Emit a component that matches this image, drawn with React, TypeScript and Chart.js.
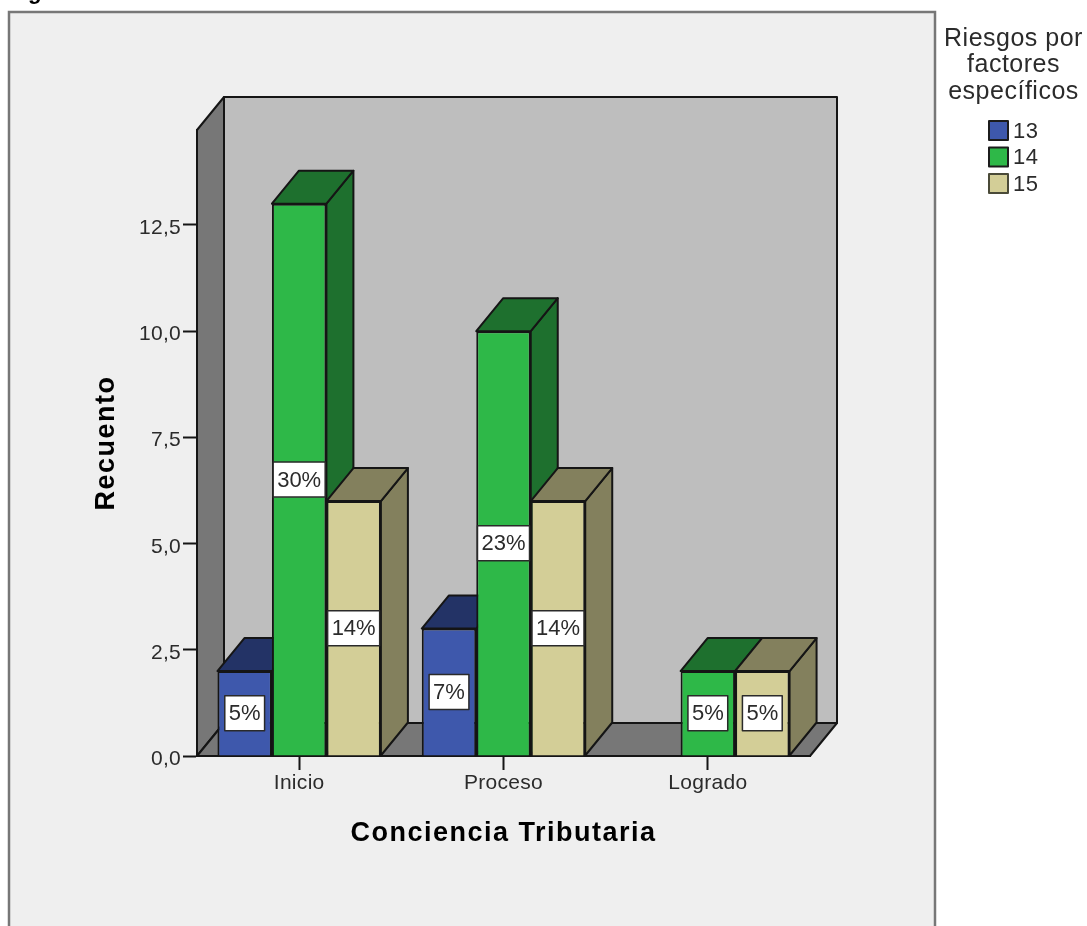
import React, { useEffect, useRef } from "react";
import { Chart, registerables } from "chart.js";

Chart.register(...registerables);

const categories = ["Inicio", "Proceso", "Logrado"];
const counts13 = [2, 3, null];
const counts14 = [13, 10, 2];
const counts15 = [6, 6, 2];
const percent13 = ["5%", "7%", ""];
const percent14 = ["30%", "23%", "5%"];
const percent15 = ["14%", "14%", "5%"];
const seriesNames = ["13", "14", "15"];
const legendTitle = ["Riesgos por", "factores", "específicos"];
const frontColors = ["#3E58AC", "#2EB848", "#D3CE97"];
const topColors = ["#233366", "#1E702E", "#83805D"];
const percentLabels = [percent13, percent14, percent15];

const DEPTH_X = 27;
const DEPTH_Y = 33;
const AXIS_MAX = 14.735;
const INK = "#151515";
const TEXT = "#2b2b2b";
const FONT = "'Liberation Sans', Arial, sans-serif";

function poly(ctx: CanvasRenderingContext2D, pts: number[][], fill: string) {
  ctx.beginPath();
  pts.forEach(([x, y], i) => (i ? ctx.lineTo(x, y) : ctx.moveTo(x, y)));
  ctx.closePath();
  ctx.fillStyle = fill;
  ctx.fill();
  ctx.lineWidth = 2;
  ctx.lineJoin = "round";
  ctx.strokeStyle = INK;
  ctx.stroke();
}

function drawPercentLabels(chart: any) {
  const { ctx } = chart;
  ctx.save();
  ctx.font = `22px ${FONT}`;
  ctx.textAlign = "center";
  ctx.textBaseline = "middle";
  (ctx as any).letterSpacing = "0px";
  percentLabels.forEach((labels, i) => {
    chart.getDatasetMeta(i).data.forEach((bar: any, k: number) => {
      const text = labels[k];
      if (!text) return;
      const { x, y, base } = bar.getProps(["x", "y", "base"], true);
      const cy = (y + base) / 2;
      const w = ctx.measureText(text).width + 8;
      ctx.fillStyle = "#ffffff";
      ctx.strokeStyle = "#2a2a2a";
      ctx.lineWidth = 1.5;
      ctx.fillRect(x - w / 2, cy - 17.5, w, 35);
      ctx.strokeRect(x - w / 2, cy - 17.5, w, 35);
      ctx.fillStyle = TEXT;
      ctx.fillText(text, x, cy + 1);
    });
  });
  ctx.restore();
}

// Panel, walls and floor, the extruded bars and the legend.
const stagePlugin = {
  id: "stage",
  beforeDraw(chart: any) {
    const { ctx, chartArea: a, scales } = chart;
    ctx.save();
    ctx.fillStyle = "#ffffff";
    ctx.fillRect(0, 0, chart.width, chart.height);
    ctx.fillStyle = "#000000";
    ctx.font = `italic bold 22px ${FONT}`;
    ctx.textBaseline = "alphabetic";
    ctx.fillText("Figura", 10, -1);
    ctx.fillStyle = "#EFEFEF";
    ctx.strokeStyle = "#777777";
    ctx.lineWidth = 2.5;
    ctx.fillRect(9, 12, 926, chart.height);
    ctx.strokeRect(9, 12, 926, chart.height + 20);
    ctx.restore();

    (ctx as any).letterSpacing = "0.3px";
    [scales.x, scales.y].forEach((scale: any) => {
      if (scale.__spaced) return;
      const drawTitle = scale.drawTitle;
      scale.drawTitle = function () {
        (ctx as any).letterSpacing = "1.5px";
        drawTitle.call(this);
        (ctx as any).letterSpacing = "0.3px";
      };
      scale.__spaced = true;
    });

    const { left: l, right: r, top: t, bottom: b } = a;
    poly(ctx, [[l, t], [l + DEPTH_X, t - DEPTH_Y], [l + DEPTH_X, b - DEPTH_Y], [l, b]], "#777777");
    poly(ctx, [[l, b], [l + DEPTH_X, b - DEPTH_Y], [r + DEPTH_X, b - DEPTH_Y], [r, b]], "#777777");
    poly(ctx, [[l + DEPTH_X, t - DEPTH_Y], [r + DEPTH_X, t - DEPTH_Y], [r + DEPTH_X, b - DEPTH_Y], [l + DEPTH_X, b - DEPTH_Y]], "#BEBEBE");
  },
  // Series are painted left to right so nearer faces cover the ones behind them.
  beforeDatasetsDraw(chart: any) {
    const { ctx } = chart;
    chart.data.datasets.forEach((dataset: any, i: number) => {
      const meta = chart.getDatasetMeta(i);
      meta.data.forEach((bar: any, k: number) => {
        if (dataset.data[k] == null) return;
        const { x, y, base, width } = bar.getProps(["x", "y", "base", "width"], true);
        const l = x - width / 2;
        const r = x + width / 2;
        ctx.save();
        poly(ctx, [[r, y], [r + DEPTH_X, y - DEPTH_Y], [r + DEPTH_X, base - DEPTH_Y], [r, base]], topColors[i]);
        poly(ctx, [[l, y], [l + DEPTH_X, y - DEPTH_Y], [r + DEPTH_X, y - DEPTH_Y], [r, y]], topColors[i]);
        ctx.restore();
      });
      meta.controller.draw();
    });
    drawPercentLabels(chart);
    return false;
  },
  afterDraw(chart: any) {
    const { ctx } = chart;
    ctx.save();
    (ctx as any).letterSpacing = "0.5px";
    ctx.font = `25px ${FONT}`;
    ctx.fillStyle = TEXT;
    ctx.textAlign = "center";
    ctx.textBaseline = "middle";
    legendTitle.forEach((line, i) => ctx.fillText(line, 1013.5, 39 + i * 26.5));
    (ctx as any).letterSpacing = "0.4px";
    ctx.font = `22px ${FONT}`;
    ctx.textAlign = "left";
    seriesNames.forEach((name, i) => {
      const top = 121 + i * 26.5;
      ctx.fillStyle = frontColors[i];
      ctx.strokeStyle = i === 2 ? "#4a4a38" : "#1c1c1c";
      ctx.lineWidth = 2;
      ctx.fillRect(989, top, 19, 19);
      ctx.strokeRect(989, top, 19, 19);
      ctx.fillStyle = TEXT;
      ctx.fillText(name, 1013, top + 10.5);
    });
    ctx.restore();
  },
};

export default function App() {
  const ref = useRef<HTMLCanvasElement>(null);

  useEffect(() => {
    const series = [counts13, counts14, counts15];
    const chart = new Chart(ref.current as HTMLCanvasElement, {
      type: "bar",
      data: {
        labels: categories,
        datasets: series.map((data, i) => ({
          label: seriesNames[i],
          data,
          backgroundColor: frontColors[i],
          borderColor: INK,
          borderWidth: 2,
          categoryPercentage: 0.8,
          barPercentage: 1,
        })),
      },
      options: {
        responsive: false,
        animation: false,
        events: [],
        layout: { padding: { left: 90, right: 277, top: 130, bottom: 76 } },
        plugins: { legend: { display: false }, tooltip: { enabled: false }, title: { display: false } },
        scales: {
          x: {
            afterFit: (s: any) => { s.height = 94; },
            grid: { drawOnChartArea: false, drawTicks: true, tickLength: 14, tickWidth: 2, tickColor: INK, offset: false },
            border: { display: true, color: INK, width: 2 },
            ticks: { color: TEXT, font: { family: FONT, size: 21 }, padding: 1, maxRotation: 0 },
            title: {
              display: true,
              text: "Conciencia Tributaria",
              color: "#000000",
              font: { family: FONT, size: 27, weight: "bold", lineHeight: 1.2 },
              padding: 0,
            },
          },
          y: {
            min: 0,
            max: AXIS_MAX,
            afterFit: (s: any) => { s.width = 107; },
            afterBuildTicks: (s: any) => { s.ticks = s.ticks.filter((t: any) => t.value <= 12.5); },
            grid: { drawOnChartArea: false, drawTicks: true, tickLength: 14, tickWidth: 2, tickColor: INK },
            border: { display: true, color: INK, width: 2 },
            ticks: {
              stepSize: 2.5,
              autoSkip: false,
              color: TEXT,
              font: { family: FONT, size: 21, lineHeight: 0.3 },
              padding: 2,
              // The blank first line nudges each label just below its tick.
              callback: (v: any) => ["", Number(v).toFixed(1).replace(".", ",")],
            },
            title: {
              display: true,
              text: "Recuento",
              color: "#000000",
              font: { family: FONT, size: 27, weight: "bold", lineHeight: 1.2 },
              padding: 0,
            },
          },
        },
      } as any,
      plugins: [stagePlugin as any],
    });
    return () => chart.destroy();
  }, []);

  return (
    <canvas
      ref={ref}
      width={1087}
      height={926}
      style={{ position: "absolute", left: 0, top: 0, display: "block" }}
    />
  );
}
